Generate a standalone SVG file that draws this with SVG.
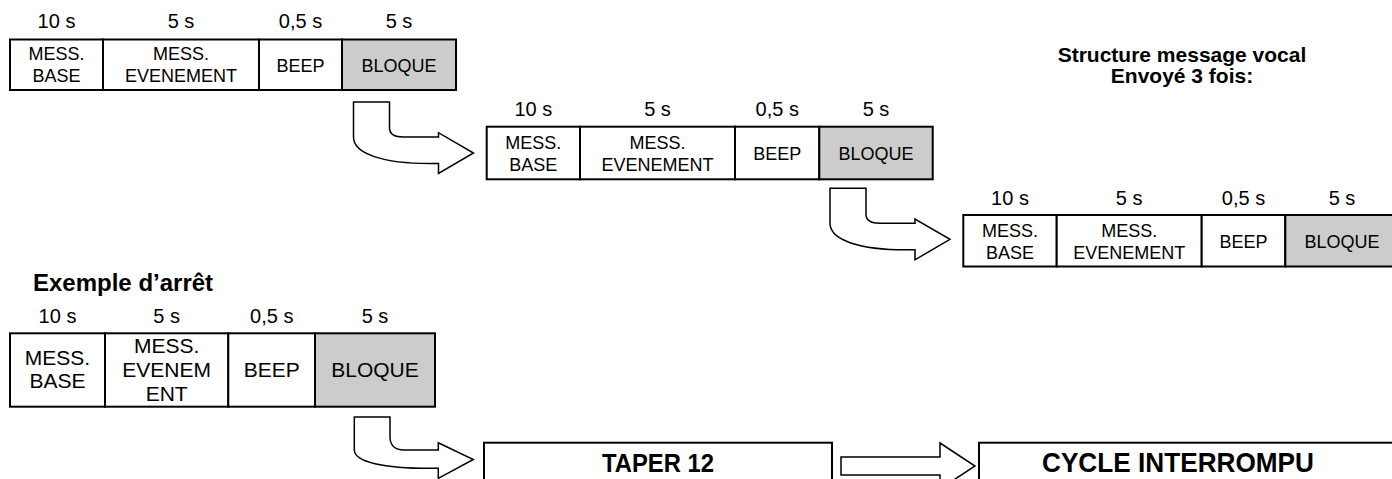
<svg xmlns="http://www.w3.org/2000/svg" width="1392" height="479" viewBox="0 0 1392 479">
<style>
text{font-family:"Liberation Sans",Arial,sans-serif;fill:#000}
.lbl{font-size:20px;text-anchor:middle}
.c{font-size:18px;text-anchor:middle}
.c4{font-size:21px;text-anchor:middle}
.hd{font-size:21px;font-weight:bold;text-anchor:middle}
.big{font-weight:bold;text-anchor:middle}
.cell{fill:#fff;stroke:#000;stroke-width:2}
.gray{fill:#cccccc;stroke:#000;stroke-width:2}
.arr{fill:#fff;stroke:#000;stroke-width:1.5;stroke-linejoin:miter}
</style>
<defs>
<path id="bent" d="M0,0 H36 V26 C36,32 40,35 50,35 H85 V30.7 L120,51 L85,71.5 V61.5 H76 C30,61.5 0,52 0,35 Z"/>
</defs>

<g id="title">
<text class="hd" x="1182" y="61.5">Structure message vocal</text>
<text class="hd" x="1182" y="83.3">Envoyé 3 fois:</text>
</g>

<g id="row1">
<text class="lbl" x="56.5" y="28">10 s</text>
<text class="lbl" x="181" y="28">5 s</text>
<text class="lbl" x="300.5" y="28">0,5 s</text>
<text class="lbl" x="399" y="28">5 s</text>
<g id="r1-base"><rect class="cell" x="10" y="39.5" width="93" height="50.5"/><text class="c" x="56.5" y="60">MESS.</text><text class="c" x="56.5" y="82">BASE</text></g>
<g id="r1-event"><rect class="cell" x="103" y="39.5" width="156" height="50.5"/><text class="c" x="181" y="60">MESS.</text><text class="c" x="181" y="82">EVENEMENT</text></g>
<g id="r1-beep"><rect class="cell" x="259" y="39.5" width="83" height="50.5"/><text class="c" x="300.5" y="72">BEEP</text></g>
<g id="r1-bloque"><rect class="gray" x="342" y="39.5" width="114" height="50.5"/><text class="c" x="399" y="72">BLOQUE</text></g>
</g>

<g id="row2">
<text class="lbl" x="533.3" y="116">10 s</text>
<text class="lbl" x="657.5" y="116">5 s</text>
<text class="lbl" x="777.2" y="116">0,5 s</text>
<text class="lbl" x="876" y="116">5 s</text>
<g id="r2-base"><rect class="cell" x="486.7" y="126.7" width="93.3" height="52.6"/><text class="c" x="533.3" y="148.5">MESS.</text><text class="c" x="533.3" y="170.5">BASE</text></g>
<g id="r2-event"><rect class="cell" x="580" y="126.7" width="155" height="52.6"/><text class="c" x="657.5" y="148.5">MESS.</text><text class="c" x="657.5" y="170.5">EVENEMENT</text></g>
<g id="r2-beep"><rect class="cell" x="735" y="126.7" width="84.3" height="52.6"/><text class="c" x="777.2" y="160">BEEP</text></g>
<g id="r2-bloque"><rect class="gray" x="819.3" y="126.7" width="113.4" height="52.6"/><text class="c" x="876" y="160">BLOQUE</text></g>
</g>

<g id="row3">
<text class="lbl" x="1010" y="205">10 s</text>
<text class="lbl" x="1129.2" y="205">5 s</text>
<text class="lbl" x="1243.5" y="205">0,5 s</text>
<text class="lbl" x="1342" y="205">5 s</text>
<g id="r3-base"><rect class="cell" x="963.3" y="215" width="93.4" height="51.5"/><text class="c" x="1010" y="237">MESS.</text><text class="c" x="1010" y="259">BASE</text></g>
<g id="r3-event"><rect class="cell" x="1056.7" y="215" width="145" height="51.5"/><text class="c" x="1129.2" y="237">MESS.</text><text class="c" x="1129.2" y="259">EVENEMENT</text></g>
<g id="r3-beep"><rect class="cell" x="1201.7" y="215" width="83.6" height="51.5"/><text class="c" x="1243.5" y="248">BEEP</text></g>
<g id="r3-bloque"><rect class="gray" x="1285.3" y="215" width="113.4" height="51.5"/><text class="c" x="1342" y="248">BLOQUE</text></g>
</g>

<g id="example">
<text x="33" y="290.7" style="font-size:24px;font-weight:bold">Exemple d’arrêt</text>
<text class="lbl" x="57.5" y="323.3">10 s</text>
<text class="lbl" x="166.7" y="323.3">5 s</text>
<text class="lbl" x="271.7" y="323.3">0,5 s</text>
<text class="lbl" x="375" y="323.3">5 s</text>
<g id="r4-base"><rect class="cell" x="10" y="333.3" width="95" height="73.4"/><text class="c4" x="57.5" y="365">MESS.</text><text class="c4" x="57.5" y="388.3">BASE</text></g>
<g id="r4-event"><rect class="cell" x="105" y="333.3" width="123.3" height="73.4"/><text class="c4" x="166.7" y="353.3">MESS.</text><text class="c4" x="166.7" y="376.7">EVENEM</text><text class="c4" x="166.7" y="401">ENT</text></g>
<g id="r4-beep"><rect class="cell" x="228.3" y="333.3" width="86.7" height="73.4"/><text class="c4" x="271.7" y="376.7">BEEP</text></g>
<g id="r4-bloque"><rect class="gray" x="315" y="333.3" width="120" height="73.4"/><text class="c4" x="375" y="376.7">BLOQUE</text></g>
</g>

<g id="taper">
<rect class="cell" x="484" y="442.7" width="348" height="60"/>
<text class="big" x="658" y="472" style="font-size:26px" textLength="112" lengthAdjust="spacingAndGlyphs">TAPER 12</text>
</g>
<g id="cycle">
<rect class="cell" x="979" y="442.7" width="430" height="60"/>
<text class="big" x="1178" y="472" style="font-size:28px" textLength="272" lengthAdjust="spacingAndGlyphs">CYCLE INTERROMPU</text>
</g>

<g id="connectors">
<use href="#bent" class="arr" transform="translate(353.5,102)"/>
<use href="#bent" class="arr" transform="translate(830,188.3)"/>
<path class="arr" d="M354.3,417 H390 V437 C390,444 394,450 404,450 H438.3 V442.7 L473.3,459.5 L438.3,478.3 V468.3 H430 C384,468.3 354.3,462 354.3,450 Z"/>
<path class="arr" d="M841,457 H940 V443 L975,466 L940,489 V475 H841 Z"/>
</g>
</svg>
